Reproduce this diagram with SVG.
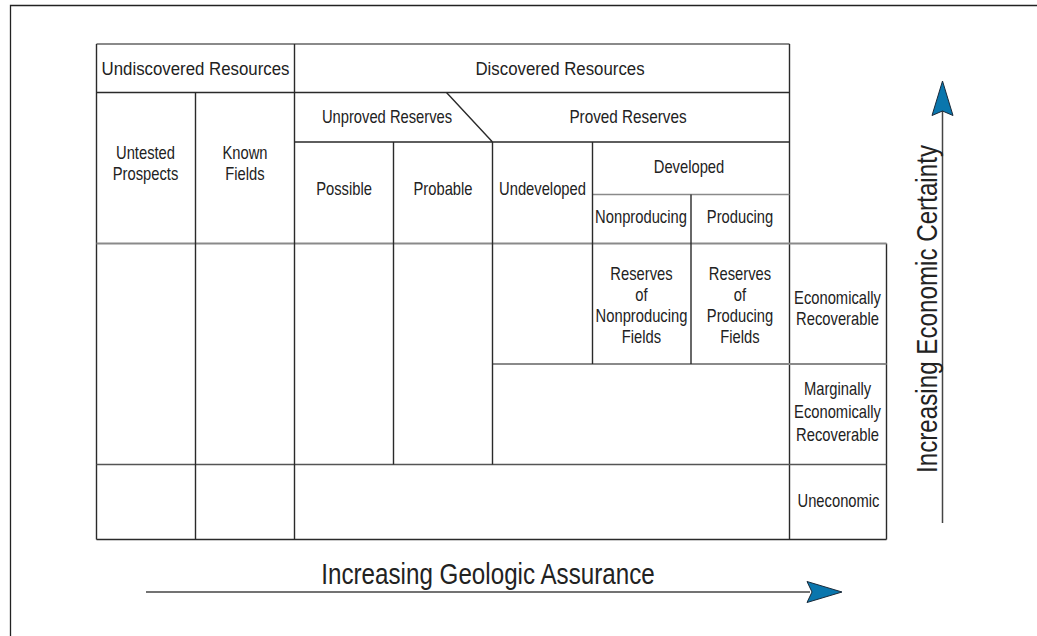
<svg xmlns="http://www.w3.org/2000/svg" width="1037" height="636" viewBox="0 0 1037 636">
<style>
.frame{fill:none;stroke:#222;stroke-width:1.3}
.ln{stroke:#2a2a2a;stroke-width:1.4;fill:none}
.lg{stroke:#8a8a8a;stroke-width:2;fill:none}
.ax{stroke:#444;stroke-width:1.5;fill:none}
.ah{fill:#0a76ad;stroke:#1a2a3a;stroke-width:1}
text{font-family:"Liberation Sans",Arial,Helvetica,sans-serif;fill:#222;text-anchor:middle}
.c{font-size:18px}
.h{font-size:19px}
.big{font-size:29.5px}
</style>
<rect width="1037" height="636" fill="#fff"/>
<path class="frame" d="M10.5,640 V5.5 H1040"/>
<g id="connectors">
  <g id="grid">
    <path class="lg" d="M96.5,44 H789.5"/>
    <path class="ln" d="M96.5,44 V539.5 M789.5,44 V539.5 M886.5,243.5 V539.5 M96.5,539.5 H886.5"/>
    <path class="ln" d="M96.5,92.5 H789.5"/>
    <path class="ln" d="M294.5,142 H789.5 M446.5,92.5 L492.5,142"/>
    <path class="lg" d="M592.5,194.5 H789.5" style="stroke-width:1.6"/>
    <path class="lg" d="M96.5,243.5 H886.5"/>
    <path class="lg" d="M492.5,364 H886.5"/>
    <path class="ln" d="M96.5,464.5 H886.5" style="stroke:#555"/>
    <path class="ln" d="M195.5,92.5 V539.5 M294.5,44 V539.5 M393.5,142 V464.5 M492.5,142 V464.5 M592.5,142 V364 M691,194.5 V364"/>
  </g>
  <g id="axis-geologic">
    <path class="ax" d="M146,592 H810"/>
    <polygon class="ah" points="842,592 807,581.5 812,592 807,602.5"/>
  </g>
  <g id="axis-economic">
    <path class="ax" d="M942.5,523 V110"/>
    <polygon class="ah" points="942.5,81 932,115.5 942.5,111 953,115.5"/>
  </g>
</g>
<g id="n-undiscovered"><text class="h" transform="translate(195.5,75) scale(0.885,1)">Undiscovered Resources</text></g>
<g id="n-discovered"><text class="h" transform="translate(560,75) scale(0.885,1)">Discovered Resources</text></g>
<g id="n-untested"><text class="c" transform="translate(145.5,0) scale(0.82,1)"><tspan x="0" y="159">Untested</tspan><tspan x="0" y="180">Prospects</tspan></text></g>
<g id="n-known"><text class="c" transform="translate(245,0) scale(0.82,1)"><tspan x="0" y="159">Known</tspan><tspan x="0" y="180">Fields</tspan></text></g>
<g id="n-unproved"><text class="c" transform="translate(387,123) scale(0.82,1)">Unproved Reserves</text></g>
<g id="n-proved"><text class="c" transform="translate(628,123) scale(0.85,1)">Proved Reserves</text></g>
<g id="n-possible"><text class="c" transform="translate(344,195) scale(0.82,1)">Possible</text></g>
<g id="n-probable"><text class="c" transform="translate(443,195) scale(0.82,1)">Probable</text></g>
<g id="n-undeveloped"><text class="c" transform="translate(542.5,195) scale(0.82,1)">Undeveloped</text></g>
<g id="n-developed"><text class="c" transform="translate(689,173) scale(0.82,1)">Developed</text></g>
<g id="n-nonproducing"><text class="c" transform="translate(641,223) scale(0.82,1)">Nonproducing</text></g>
<g id="n-producing"><text class="c" transform="translate(740,223) scale(0.82,1)">Producing</text></g>
<g id="n-res-nonprod"><text class="c" transform="translate(641.5,0) scale(0.82,1)"><tspan x="0" y="280">Reserves</tspan><tspan x="0" y="301">of</tspan><tspan x="0" y="322">Nonproducing</tspan><tspan x="0" y="343">Fields</tspan></text></g>
<g id="n-res-prod"><text class="c" transform="translate(740,0) scale(0.82,1)"><tspan x="0" y="280">Reserves</tspan><tspan x="0" y="301">of</tspan><tspan x="0" y="322">Producing</tspan><tspan x="0" y="343">Fields</tspan></text></g>
<g id="n-econ"><text class="c" transform="translate(837.5,0) scale(0.82,1)"><tspan x="0" y="304">Economically</tspan><tspan x="0" y="325">Recoverable</tspan></text></g>
<g id="n-marginal"><text class="c" transform="translate(837.5,0) scale(0.82,1)"><tspan x="0" y="395">Marginally</tspan><tspan x="0" y="418">Economically</tspan><tspan x="0" y="441">Recoverable</tspan></text></g>
<g id="n-uneconomic"><text class="c" transform="translate(838.5,507) scale(0.82,1)">Uneconomic</text></g>
<g id="label-geologic"><text class="big" transform="translate(488,584) scale(0.82,1)">Increasing Geologic Assurance</text></g>
<g id="label-economic"><text class="big" transform="translate(936.5,309) rotate(-90) scale(0.82,1)">Increasing Economic Certainty</text></g>
</svg>
